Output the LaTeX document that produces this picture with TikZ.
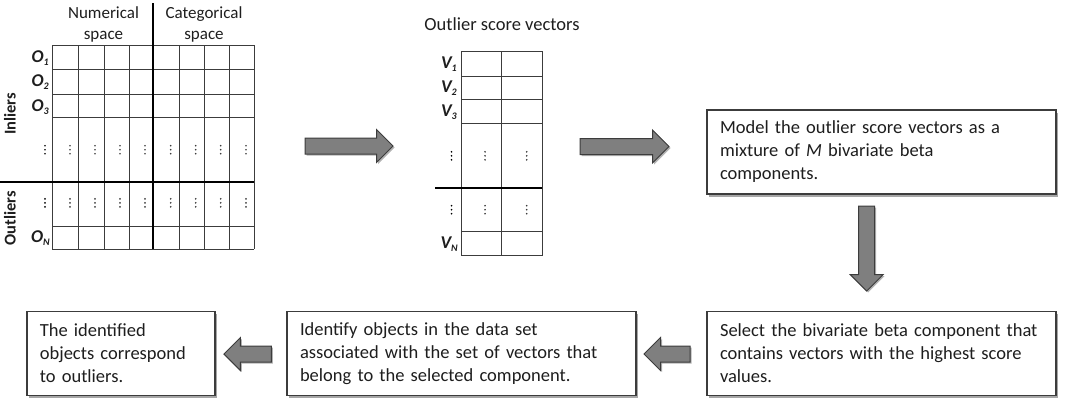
\documentclass[tikz,border=0pt]{standalone}
\usepackage{fontspec}
\setmainfont{Carlito}
\usetikzlibrary{shapes.arrows,shadows,calc}
\definecolor{edge}{HTML}{3C3C3C}
\definecolor{arrowfill}{HTML}{7F7F7F}
\definecolor{ink}{HTML}{1E1E1E}
\tikzset{
  stepbox/.style={draw=edge, line width=1.4pt, fill=white, text=ink, align=left,
    inner xsep=13pt, inner ysep=0pt, minimum height=84pt,
    font=\fontsize{18.5}{23}\selectfont,
    drop shadow={shadow xshift=2pt, shadow yshift=-2.5pt, fill=black, opacity=0.35}},
  blockarrow/.style={single arrow, draw=edge, line width=1pt, fill=arrowfill,
    text height=7.5pt, text depth=7.5pt, text width=0pt,
    single arrow head extend=8.5pt, inner sep=0pt,
    single arrow tip angle=90,
    drop shadow={shadow xshift=1.5pt, shadow yshift=-1.5pt, fill=black, opacity=0.3}},
  downarrow/.style={blockarrow, text width=15pt, text height=0pt, text depth=0pt,
    shape border rotate=270},
  gridline/.style={draw=edge, line width=0.8pt},
  sepline/.style={draw=black, line width=1.8pt},
  hdr/.style={text=ink, align=center, font=\fontsize{17}{21}\selectfont},
  rowlab/.style={text=ink, anchor=east, inner sep=0pt, font=\fontsize{18}{20}\selectfont\bfseries\itshape},
  sidelab/.style={text=ink, rotate=90, inner sep=0pt, font=\fontsize{16.5}{19}\selectfont\bfseries},
  dotc/.style={fill=edge, draw=none},
}
\newcommand{\vdotsmark}[3]{%
  \fill[#3] (#1,#2-4) circle (0.95) (#1,#2) circle (0.95) (#1,#2+4) circle (0.95);}
\newcommand{\sublab}[2]{#1\raisebox{-0.35ex}{\fontsize{10}{10}\selectfont #2}}
\begin{document}
\begin{tikzpicture}[x=1pt,y=-1pt]
\useasboundingbox (0,0) rectangle (1065,402);

% ---------- Grid 1 ----------
\foreach \x in {52.3,78.3,104,129,153.3,179,204.3,229.3,254.3}
  \draw[gridline] (\x,45) -- (\x,249.3);
\foreach \y in {45,69.3,94,117.7,181.7,226,249.3}
  \draw[gridline] (52.3,\y) -- (254.3,\y);
\draw[sepline] (153.3,3) -- (153.3,249.3);
\draw[sepline] (0,181.7) -- (254.3,181.7);
\foreach \x in {70,95,120,145,170.7,195.7,220.7,246} {
  \vdotsmark{\x}{149.7}{dotc}
  \vdotsmark{\x}{202.8}{dotc}
}
\vdotsmark{45}{149.7}{fill=black}
\vdotsmark{45}{202.8}{fill=black}

\node[hdr] (hnum) at (103.5,24.5) {Numerical\\space};
\node[hdr] (hcat) at (204,24.5) {Categorical\\space};
\node[rowlab] (o1) at (49,58) {\sublab{O}{1}};
\node[rowlab] (o2) at (49,82.5) {\sublab{O}{2}};
\node[rowlab] (o3) at (49,106.7) {\sublab{O}{3}};
\node[rowlab] (on) at (50,238.5) {\sublab{O}{N}};
\node[sidelab] (inl) at (10,114) {Inliers};
\node[sidelab] (outl) at (10,218) {Outliers};

% ---------- Grid 2 ----------
\node[text=ink, font=\fontsize{18.5}{23}\selectfont] (title) at (502,24) {Outlier score vectors};
\foreach \x in {461,501.7,542.3}
  \draw[gridline] (\x,51) -- (\x,255.7);
\foreach \y in {51,76,99.3,123.3,188.3,231,255.7}
  \draw[gridline] (461,\y) -- (542.3,\y);
\draw[sepline] (435,188.3) -- (542.3,188.3);
\foreach \x in {485,526.7} {
  \vdotsmark{\x}{155.8}{dotc}
  \vdotsmark{\x}{209.7}{dotc}
}
\vdotsmark{451.5}{155.8}{fill=black}
\vdotsmark{451.5}{209.7}{fill=black}
\node[rowlab] (v1) at (457,64.3) {\sublab{V}{1}};
\node[rowlab] (v2) at (457,88.5) {\sublab{V}{2}};
\node[rowlab] (v3) at (457,112) {\sublab{V}{3}};
\node[rowlab] (vn) at (458,244) {\sublab{V}{N}};

% ---------- Boxes ----------
\node[stepbox, text width=323pt] (model) at (881.5,152)
  {\mbox{Model the outlier score vectors as a}\\\mbox{mixture of \textit{M} bivariate beta}\\components.};
\node[stepbox, text width=323pt] (select) at (881.5,353.5)
  {\mbox{Select the bivariate beta component that}\\\mbox{contains vectors with the highest score}\\values.};
\node[stepbox, text width=323pt] (identify) at (461.5,353.5)
  {\mbox{Identify objects in the data set}\\\mbox{associated with the set of vectors that}\\\mbox{belong to the selected component.}};
\node[stepbox, text width=162pt] (result) at (120.9,353.5)
  {\mbox{The identified}\\\mbox{objects correspond}\\\mbox{to outliers.}};

% ---------- Block arrows ----------
\node[blockarrow, minimum height=88pt] (a1) at (345,146) {};
\node[blockarrow, minimum height=89pt] (a2) at (620.5,146.5) {};
\node[downarrow, minimum height=85pt] (a3) at (866.7,244.5) {};
\node[blockarrow, minimum height=46pt, shape border rotate=180] (a4) at (671,354) {};
\node[blockarrow, minimum height=47.5pt, shape border rotate=180] (a5) at (251.7,354) {};
\end{tikzpicture}
\end{document}
